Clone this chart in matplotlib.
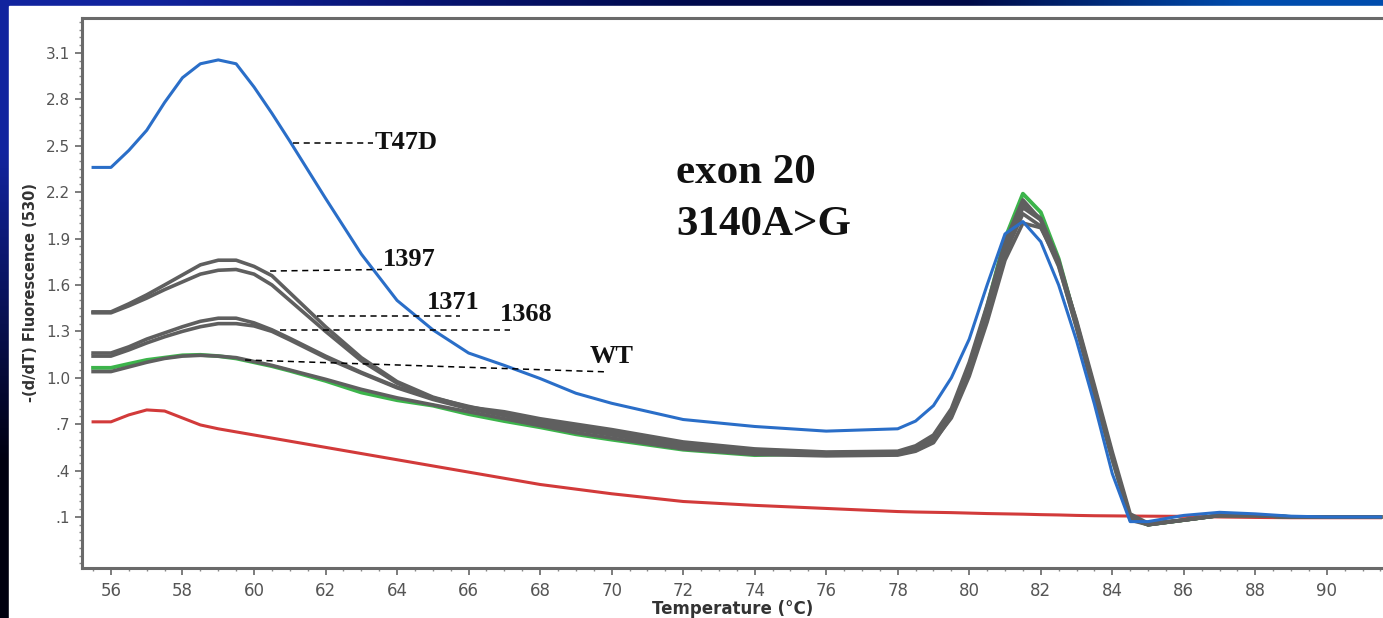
import matplotlib
matplotlib.use("Agg")
import matplotlib.pyplot as plt
import numpy as np
from matplotlib.patches import Rectangle
from matplotlib.ticker import MultipleLocator

# melt-curve data (temperature in degC, -(d/dT) fluorescence)
temp = [55.5, 56, 56.5, 57, 57.5, 58, 58.5, 59, 59.5, 60,
        60.5, 61, 62, 63, 64, 65, 66, 67, 68, 69,
        70, 72, 74, 76, 78, 78.5, 79, 79.5, 80, 80.5,
        81, 81.5, 82, 82.5, 83, 83.5, 84, 84.5, 85, 86,
        87, 88, 89, 90, 91.5]

t47d = [2.36, 2.36, 2.47, 2.60, 2.78, 2.94, 3.03, 3.055, 3.03, 2.88,
        2.71, 2.53, 2.16, 1.80, 1.50, 1.31, 1.16, 1.08, 0.995, 0.90,
        0.835, 0.73, 0.685, 0.655, 0.67, 0.72, 0.82, 1.00, 1.25, 1.60,
        1.93, 2.01, 1.88, 1.60, 1.24, 0.83, 0.38, 0.07, 0.07, 0.11,
        0.13, 0.12, 0.105, 0.10, 0.10]

s1397a = [1.426, 1.426, 1.478, 1.536, 1.60, 1.665, 1.73, 1.76, 1.76, 1.72,
          1.66, 1.55, 1.33, 1.13, 0.975, 0.875, 0.81, 0.78, 0.735, 0.70,
          0.665, 0.585, 0.54, 0.52, 0.525, 0.56, 0.63, 0.80, 1.10, 1.47,
          1.88, 2.15, 2.02, 1.73, 1.32, 0.89, 0.47, 0.08, 0.05, 0.08,
          0.11, 0.11, 0.10, 0.10, 0.10]

s1397b = [1.42, 1.42, 1.465, 1.515, 1.57, 1.62, 1.67, 1.695, 1.70, 1.67,
          1.60, 1.50, 1.30, 1.11, 0.965, 0.87, 0.805, 0.77, 0.725, 0.69,
          0.655, 0.575, 0.535, 0.515, 0.52, 0.55, 0.61, 0.76, 1.04, 1.40,
          1.80, 2.06, 1.98, 1.72, 1.33, 0.91, 0.49, 0.10, 0.05, 0.08,
          0.11, 0.11, 0.10, 0.10, 0.10]

s1371 = [1.16, 1.16, 1.20, 1.25, 1.29, 1.33, 1.365, 1.385, 1.385, 1.355,
         1.31, 1.255, 1.14, 1.035, 0.94, 0.87, 0.815, 0.765, 0.715, 0.68,
         0.645, 0.565, 0.525, 0.51, 0.515, 0.545, 0.61, 0.78, 1.07, 1.44,
         1.85, 2.12, 2.03, 1.76, 1.36, 0.93, 0.50, 0.10, 0.05, 0.08,
         0.11, 0.11, 0.10, 0.10, 0.10]

s1368 = [1.14, 1.14, 1.18, 1.225, 1.265, 1.30, 1.33, 1.35, 1.35, 1.335,
         1.30, 1.245, 1.13, 1.03, 0.935, 0.86, 0.80, 0.755, 0.705, 0.665,
         0.63, 0.555, 0.515, 0.50, 0.505, 0.53, 0.59, 0.74, 1.01, 1.36,
         1.76, 2.00, 1.97, 1.74, 1.37, 0.95, 0.52, 0.12, 0.06, 0.08,
         0.11, 0.11, 0.10, 0.10, 0.10]

wt_grey = [1.04, 1.04, 1.07, 1.10, 1.125, 1.14, 1.145, 1.14, 1.13, 1.105,
           1.08, 1.05, 0.99, 0.925, 0.87, 0.825, 0.78, 0.735, 0.69, 0.645,
           0.61, 0.54, 0.505, 0.495, 0.50, 0.525, 0.58, 0.75, 1.03, 1.40,
           1.82, 2.10, 2.02, 1.75, 1.35, 0.92, 0.49, 0.10, 0.05, 0.08,
           0.11, 0.11, 0.10, 0.10, 0.10]

wt_green = [1.064, 1.064, 1.09, 1.115, 1.13, 1.145, 1.148, 1.14, 1.125, 1.10,
            1.075, 1.045, 0.98, 0.905, 0.855, 0.82, 0.765, 0.72, 0.68, 0.635,
            0.60, 0.535, 0.50, 0.51, 0.515, 0.54, 0.60, 0.77, 1.07, 1.46,
            1.90, 2.19, 2.07, 1.77, 1.35, 0.91, 0.48, 0.09, 0.05, 0.08,
            0.11, 0.11, 0.10, 0.10, 0.10]

ntc = [0.715, 0.715, 0.76, 0.792, 0.785, 0.74, 0.695, 0.67, 0.65, 0.63,
       0.61, 0.59, 0.55, 0.51, 0.47, 0.43, 0.39, 0.35, 0.31, 0.28,
       0.25, 0.20, 0.175, 0.155, 0.135, 0.132, 0.13, 0.128, 0.125, 0.122,
       0.12, 0.118, 0.115, 0.113, 0.11, 0.108, 0.107, 0.106, 0.105, 0.104,
       0.10, 0.097, 0.095, 0.095, 0.095]

xticks = [56, 58, 60, 62, 64, 66, 68, 70, 72, 74, 76, 78, 80, 82, 84, 86, 88, 90]
yticks = [0.1, 0.4, 0.7, 1.0, 1.3, 1.6, 1.9, 2.2, 2.5, 2.8, 3.1]
ytick_labels = [".1", ".4", ".7", "1.0", "1.3", "1.6", "1.9", "2.2", "2.5", "2.8", "3.1"]

# sample labels with their leader lines: (label, x0, x1, y0, y1, text x, text y)
callouts = [
    ("T47D", 61.09, 63.33, 2.518, 2.518, 63.38, 2.518),
    ("1397", 60.45, 63.58, 1.69, 1.70, 63.61, 1.762),
    ("1371", 61.76, 65.76, 1.40, 1.40, 64.84, 1.484),
    ("1368", 60.73, 67.16, 1.309, 1.309, 66.88, 1.406),
    ("WT", 59.75, 69.87, 1.115, 1.038, 69.39, 1.135),
]

W, H = 1383, 618
fig = plt.figure(figsize=(W / 100, H / 100), dpi=100)

# slide background: navy gradient frame with a white panel
bg = fig.add_axes([0, 0, 1, 1], zorder=0)
grad = np.array([
    [[0.07, 0.14, 0.62], [0.03, 0.08, 0.45], [0.0, 0.04, 0.30], [0.0, 0.04, 0.28], [0.0, 0.30, 0.68]],
    [[0.0, 0.0, 0.06], [0.0, 0.0, 0.06], [0.0, 0.0, 0.06], [0.0, 0.0, 0.06], [0.0, 0.0, 0.06]],
])
bg.imshow(grad, aspect="auto", interpolation="bilinear", extent=[0, 1, 0, 1])
bg.add_patch(Rectangle((9 / W, 0), 1, 1 - 6 / H, color="white"))
bg.set_xlim(0, 1)
bg.set_ylim(0, 1)
bg.axis("off")

ax = fig.add_axes([82 / W, 50 / H, 1 - 82 / W, 550 / H], zorder=1)
ax.patch.set_alpha(0)

lw = 2.2
grey = "#5f5f5f"
ax.plot(temp, ntc, color="#d23a3a", lw=lw)
ax.plot(temp, wt_green, color="#3cb44b", lw=lw + 0.6)
ax.plot(temp, wt_grey, color=grey, lw=lw + 0.4)
ax.plot(temp, s1368, color=grey, lw=lw + 0.4)
ax.plot(temp, s1371, color=grey, lw=lw + 0.4)
ax.plot(temp, s1397b, color=grey, lw=lw + 0.4)
ax.plot(temp, s1397a, color=grey, lw=lw + 0.4)
ax.plot(temp, t47d, color="#2a6ec8", lw=lw)

for label, x0, x1, y0, y1, tx, ty in callouts:
    ax.plot([x0, x1], [y0, y1], color="black", lw=1.1, ls=(0, (4, 3)))
    ax.text(tx, ty, label, family="Liberation Serif", weight="bold",
            fontsize=19, va="center", ha="left", color="#111111")

ax.text(71.81, 2.26, "exon 20", family="Liberation Serif", weight="bold",
        fontsize=31, va="baseline", ha="left", color="#111111")
ax.text(71.81, 1.924, "3140A>G", family="Liberation Serif", weight="bold",
        fontsize=31, va="baseline", ha="left", color="#111111")

ax.set_xlim(55.19, 91.57)
ax.set_ylim(-0.23, 3.326)
ax.set_xticks(xticks)
ax.xaxis.set_minor_locator(MultipleLocator(0.5))
ax.set_yticks(yticks)
ax.set_yticklabels(ytick_labels)
ax.yaxis.set_minor_locator(MultipleLocator(0.05))

for side in ("left", "bottom", "top"):
    ax.spines[side].set_color("#6a6a6a")
    ax.spines[side].set_linewidth(2.2)
ax.spines["right"].set_visible(False)

ax.tick_params(axis="both", which="major", length=5, width=1.2, color="#666666",
               labelcolor="#555555", labelsize=11)
ax.tick_params(axis="both", which="minor", length=2.5, width=1, color="#888888")
ax.tick_params(axis="x", pad=5)
for lab in ax.get_xticklabels():
    lab.set_fontsize(12)

ax.set_xlabel("Temperature (\u00b0C)", fontsize=12, weight="bold", color="#333333",
              labelpad=0)
ax.set_ylabel("-(d/dT) Fluorescence (530)", fontsize=10.5, weight="bold",
              color="#333333", labelpad=6)

fig.savefig("out.png", dpi=100)
